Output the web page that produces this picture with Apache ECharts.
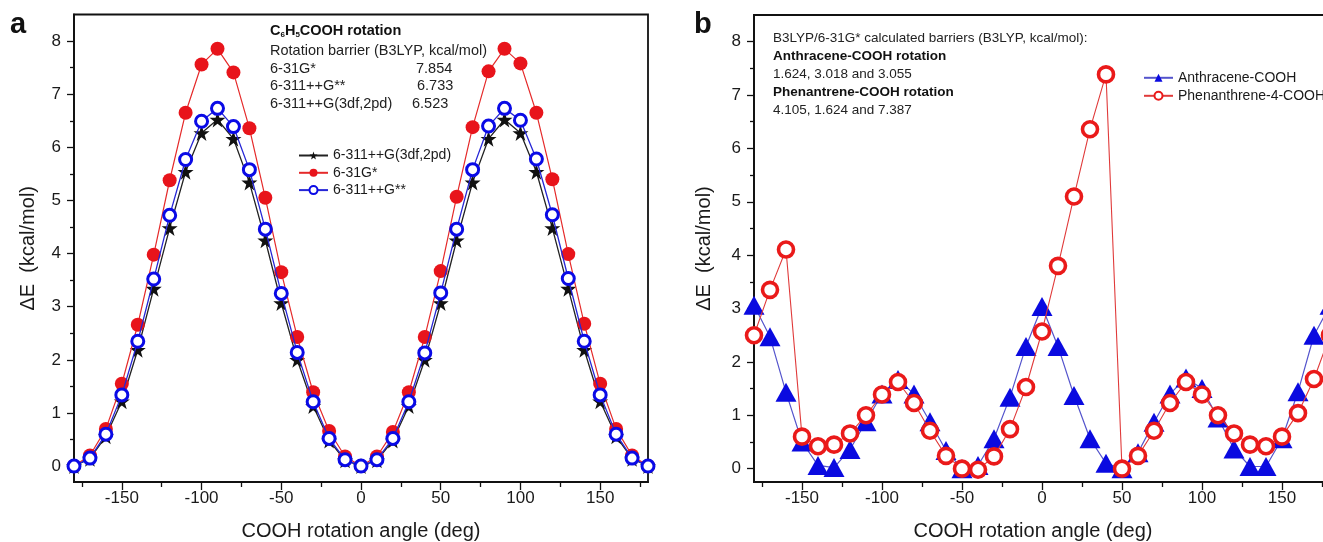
<!DOCTYPE html>
<html>
<head>
<meta charset="utf-8">
<script src="https://cdn.jsdelivr.net/npm/echarts@6/dist/echarts.min.js"></script>
<style>html,body{margin:0;padding:0;background:#fff}#c{width:1323px;height:542px}</style>
</head>
<body>
<div id="c"></div>
<script>
// ---- data ----
var angles = [-180,-170,-160,-150,-140,-130,-120,-110,-100,-90,-80,-70,-60,-50,-40,-30,-20,-10,0,10,20,30,40,50,60,70,80,90,100,110,120,130,140,150,160,170,180];
// panel a: C6H5COOH rotation
var basis3df = [0,0.14,0.56,1.22,2.19,3.34,4.48,5.54,6.27,6.523,6.16,5.34,4.25,3.07,2.0,1.13,0.48,0.11,0,0.11,0.48,1.13,2.0,3.07,4.25,5.34,6.16,6.523,6.27,5.54,4.48,3.34,2.19,1.22,0.56,0.14,0];
var basis631 = [0,0.2,0.70,1.55,2.66,3.98,5.38,6.65,7.56,7.854,7.41,6.36,5.05,3.65,2.43,1.39,0.66,0.18,0,0.18,0.64,1.39,2.43,3.67,5.07,6.38,7.43,7.854,7.58,6.65,5.40,3.99,2.68,1.55,0.70,0.2,0];
var basis6311 = [0,0.15,0.60,1.34,2.35,3.52,4.72,5.77,6.49,6.733,6.39,5.58,4.46,3.25,2.14,1.21,0.52,0.12,0,0.12,0.52,1.21,2.13,3.26,4.46,5.58,6.40,6.733,6.51,5.78,4.73,3.53,2.35,1.34,0.60,0.15,0];
// panel b
var anthracene = [3.06,2.47,1.43,0.5,0.06,0.02,0.36,0.88,1.4,1.67,1.4,0.88,0.34,0,0.06,0.56,1.34,2.29,3.04,2.29,1.37,0.56,0.1,0,0.3,0.87,1.4,1.7,1.5,0.95,0.37,0.04,0.04,0.56,1.44,2.5,3.06];
var phenanthrene = [2.5,3.35,4.105,0.60,0.42,0.45,0.66,1.0,1.39,1.624,1.23,0.71,0.24,0,-0.02,0.23,0.74,1.53,2.57,3.80,5.10,6.36,7.387,0,0.24,0.71,1.23,1.624,1.39,1.0,0.66,0.45,0.42,0.60,1.04,1.68,2.5];
// ticks
var xMajorTicks = [-150,-100,-50,0,50,100,150];
var xMinorTicks = [-175,-125,-75,-25,25,75,125,175];
var yMajorTicks = [0,1,2,3,4,5,6,7,8];
var yMinorTicks = [0.5,1.5,2.5,3.5,4.5,5.5,6.5,7.5];
var seriesNamesA = ['6-311++G(3df,2pd)','6-31G*','6-311++G**'];
var seriesNamesB = ['Anthracene-COOH','Phenanthrene-4-COOH'];

function pairs(v){ return angles.map(function(a,i){ return [a, v[i]]; }); }

var FONT = 'Arial, "Liberation Sans", sans-serif';
var TXT = '#1a1a1a';
var STAR = 'path://M50,0 L61.8,35.1 L98.1,35.1 L68.8,56.8 L79.4,90.5 L50,69.5 L20.6,90.5 L31.2,56.8 L1.9,35.1 L38.2,35.1 Z';

function xMajor(grid, gap, pad){
  return {type:'value', gridIndex:grid, min:-180, max:180, position:'bottom',
    name:'COOH rotation angle (deg)', nameLocation:'middle', nameGap:gap,
    nameTextStyle:{fontSize:20, color:TXT, fontFamily:FONT, padding:pad},
    axisLine:{show:true, onZero:false, lineStyle:{color:'#111', width:1.8}},
    axisTick:{show:true, inside:false, length:8, customValues:xMajorTicks, lineStyle:{color:'#111', width:1.3}},
    axisLabel:{show:true, customValues:xMajorTicks, margin:8, fontSize:17, color:TXT, fontFamily:FONT},
    splitLine:{show:false}};
}
function xMinor(grid){
  return {type:'value', gridIndex:grid, min:-180, max:180, position:'bottom',
    axisLine:{show:false, onZero:false},
    axisTick:{show:true, inside:false, length:5, customValues:xMinorTicks, lineStyle:{color:'#111', width:1.3}},
    axisLabel:{show:false}, splitLine:{show:false}};
}
function yMajor(grid, min, gap){
  return {type:'value', gridIndex:grid, min:min, max:8.5, position:'left',
    name:'\u0394E  (kcal/mol)', nameLocation:'middle', nameGap:gap,
    nameTextStyle:{fontSize:20, color:TXT, fontFamily:FONT},
    axisLine:{show:true, onZero:false, lineStyle:{color:'#111', width:1.8}},
    axisTick:{show:true, inside:false, length:7, customValues:yMajorTicks, lineStyle:{color:'#111', width:1.3}},
    axisLabel:{show:true, customValues:yMajorTicks, margin:13, fontSize:17, color:TXT, fontFamily:FONT},
    splitLine:{show:false}};
}
function yMinor(grid, min){
  return {type:'value', gridIndex:grid, min:min, max:8.5, position:'left',
    axisLine:{show:false, onZero:false},
    axisTick:{show:true, inside:false, length:4, customValues:yMinorTicks, lineStyle:{color:'#111', width:1.3}},
    axisLabel:{show:false}, splitLine:{show:false}};
}

var chart = echarts.init(document.getElementById('c'), null, {renderer:'canvas'});
var option = {
  backgroundColor:'#fff',
  animation:false,
  textStyle:{fontFamily:FONT},
  grid:[
    {left:74, top:14.5, width:574, height:467.5, show:true, borderColor:'#111', borderWidth:1.8, backgroundColor:'transparent', containLabel:false, outerBoundsMode:'none'},
    {left:754, top:15, width:576, height:467, show:true, borderColor:'#111', borderWidth:1.8, backgroundColor:'transparent', containLabel:false, outerBoundsMode:'none'}
  ],
  xAxis:[xMajor(0,39,[0,0,0,0]), xMinor(0), xMajor(1,39,[0,18,0,0]), xMinor(1)],
  yAxis:[yMajor(0,-0.3,36), yMinor(0,-0.3), yMajor(1,-0.25,40), yMinor(1,-0.25)],
  legend:[
    {data:seriesNamesA, orient:'vertical', left:298, top:148.5, padding:0, itemWidth:29, itemHeight:10, itemGap:3.3,
     textStyle:{fontSize:14, color:TXT, fontFamily:FONT}},
    {data:seriesNamesB, orient:'vertical', left:1143, top:70.8, padding:0, itemWidth:29, itemHeight:10, itemGap:4,
     textStyle:{fontSize:14, color:TXT, fontFamily:FONT}}
  ],
  series:[
    {name:seriesNamesA[0], type:'line', xAxisIndex:0, yAxisIndex:0, data:pairs(basis3df),
     symbol:STAR, symbolSize:16, lineStyle:{color:'#222', width:1.3}, itemStyle:{color:'#111'}, z:2},
    {name:seriesNamesA[1], type:'line', xAxisIndex:0, yAxisIndex:0, data:pairs(basis631),
     symbol:'circle', symbolSize:14, lineStyle:{color:'#e52a2a', width:1.2}, itemStyle:{color:'#e8141b'}, z:3},
    {name:seriesNamesA[2], type:'line', xAxisIndex:0, yAxisIndex:0, data:pairs(basis6311),
     symbol:'circle', symbolSize:12, lineStyle:{color:'#2626d6', width:1.3}, itemStyle:{color:'#fff', borderColor:'#0a0ae6', borderWidth:3}, z:4},
    {name:seriesNamesB[0], type:'line', xAxisIndex:2, yAxisIndex:2, data:pairs(anthracene),
     symbol:'triangle', symbolSize:[21,19], lineStyle:{color:'#5454cc', width:1.2}, itemStyle:{color:'#0a0ae0'}, z:2},
    {name:seriesNamesB[1], type:'line', xAxisIndex:2, yAxisIndex:2, data:pairs(phenanthrene),
     symbol:'circle', symbolSize:15, lineStyle:{color:'#e03a3a', width:1.1}, itemStyle:{color:'#fff', borderColor:'#ea1a1a', borderWidth:3.6}, z:3}
  ],
  graphic:[
    {type:'text', left:10, top:10, style:{text:'a', font:'bold 29px '+FONT, fill:'#111'}},
    {type:'text', left:694, top:10, style:{text:'b', font:'bold 29px '+FONT, fill:'#111'}},
    {type:'text', x:270, y:31, style:{text:'C{s|6}H{s|5}COOH rotation', font:'bold 14.5px '+FONT, fill:'#111', textVerticalAlign:'middle',
      rich:{s:{fontSize:8, fontWeight:'bold', fontFamily:FONT, fill:'#111', padding:[8,0,0,0]}}}},
    {type:'text', x:270, y:51, style:{text:'Rotation barrier (B3LYP, kcal/mol)', font:'14.5px '+FONT, fill:'#222', textVerticalAlign:'middle'}},
    {type:'text', x:270, y:68.5, style:{text:'6-31G*', font:'14.5px '+FONT, fill:'#222', textVerticalAlign:'middle'}},
    {type:'text', x:416, y:68.5, style:{text:'7.854', font:'14.5px '+FONT, fill:'#222', textVerticalAlign:'middle'}},
    {type:'text', x:270, y:86, style:{text:'6-311++G**', font:'14.5px '+FONT, fill:'#222', textVerticalAlign:'middle'}},
    {type:'text', x:417, y:86, style:{text:'6.733', font:'14.5px '+FONT, fill:'#222', textVerticalAlign:'middle'}},
    {type:'text', x:270, y:103.5, style:{text:'6-311++G(3df,2pd)', font:'14.5px '+FONT, fill:'#222', textVerticalAlign:'middle'}},
    {type:'text', x:412, y:103.5, style:{text:'6.523', font:'14.5px '+FONT, fill:'#222', textVerticalAlign:'middle'}},
    {type:'text', x:773, y:38, style:{text:'B3LYP/6-31G* calculated barriers (B3LYP, kcal/mol):', font:'13.5px '+FONT, fill:'#222', textVerticalAlign:'middle'}},
    {type:'text', x:773, y:56.5, style:{text:'Anthracene-COOH rotation', font:'bold 13.5px '+FONT, fill:'#111', textVerticalAlign:'middle'}},
    {type:'text', x:773, y:74, style:{text:'1.624, 3.018 and 3.055', font:'13.5px '+FONT, fill:'#222', textVerticalAlign:'middle'}},
    {type:'text', x:773, y:92, style:{text:'Phenantrene-COOH rotation', font:'bold 13.5px '+FONT, fill:'#111', textVerticalAlign:'middle'}},
    {type:'text', x:773, y:110, style:{text:'4.105, 1.624 and 7.387', font:'13.5px '+FONT, fill:'#222', textVerticalAlign:'middle'}}
  ]
};
chart.setOption(option);
</script>
</body>
</html>
